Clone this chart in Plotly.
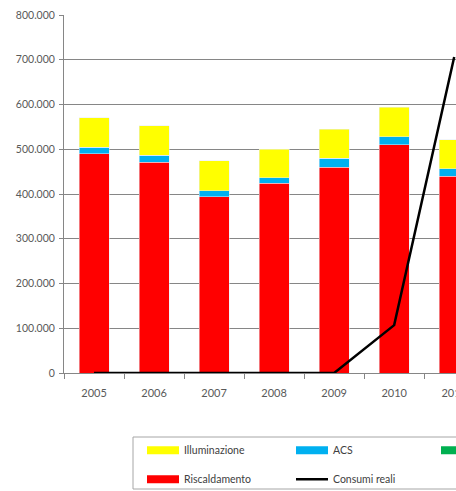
import plotly.graph_objects as go

anni = ["2005", "2006", "2007", "2008", "2009", "2010", "2011"]
riscaldamento = [490000, 471000, 394000, 424000, 460000, 510000, 440000]
acs = [15000, 16000, 13000, 12000, 20000, 18000, 16000]
raffrescamento = [0, 0, 0, 0, 0, 0, 0]
illuminazione = [65000, 65000, 67000, 64000, 65000, 66000, 65000]
consumi_reali = [0, 0, 0, 0, 0, 107000, 706000]
y_ticks = [0, 100000, 200000, 300000, 400000, 500000, 600000, 700000, 800000]

GIALLO = "#FFFF00"
BLU = "#00B0F0"
VERDE = "#00B050"
ROSSO = "#FF0000"

fig = go.Figure()
fig.add_trace(go.Bar(x=anni, y=riscaldamento, marker_color=ROSSO, showlegend=False, name="Riscaldamento"))
fig.add_trace(go.Bar(x=anni, y=acs, marker_color=BLU, showlegend=False, name="ACS"))
fig.add_trace(go.Bar(x=anni, y=raffrescamento, marker_color=VERDE, showlegend=False, name="Raffrescamento"))
fig.add_trace(go.Bar(x=anni, y=illuminazione, marker_color=GIALLO, showlegend=False, name="Illuminazione"))
fig.add_trace(go.Scatter(x=anni, y=consumi_reali, mode="lines", line=dict(color="black", width=2.5),
                         name="Consumi reali", legend="legend2", legendgroup="cr"))

# legend-only entries (wide rectangles like the original)
def leg(name, color, legend, group):
    fig.add_trace(go.Scatter(x=[None], y=[None], mode="lines", line=dict(color=color, width=8),
                             name=name, legend=legend, legendgroup=group, hoverinfo="skip"))

leg("Illuminazione", GIALLO, "legend", "il")
leg("Riscaldamento", ROSSO, "legend", "ri")
leg("ACS", BLU, "legend2", "acs")
leg("Raffrescamento", VERDE, "legend3", "raf")

fig.data[4].legendrank = 2
for t in fig.data[5:]:
    t.legendrank = 1

legend_common = dict(
    orientation="v", yanchor="top", xanchor="left", y=-0.175,
    bgcolor="rgba(0,0,0,0)", borderwidth=0,
    font=dict(family="Lato", size=10.5, color="#404040"),
    traceorder="grouped", tracegroupgap=10, itemwidth=32,
)

fig.update_layout(
    width=456, height=491,
    margin=dict(l=64, r=0, t=15, b=118, autoexpand=False),
    paper_bgcolor="white", plot_bgcolor="white",
    barmode="stack", bargap=0.5,
    separators=",.",
    font=dict(family="Lato", size=10.5, color="#595959"),
    legend=dict(x=(142 - 64) / 392, **legend_common),
    legend2=dict(x=(291 - 64) / 392, **legend_common),
    legend3=dict(x=(436 - 64) / 392, **legend_common),
    xaxis=dict(
        type="category", range=[-0.5, 6.03],
        showline=True, linecolor="#868686", linewidth=1,
        ticks="outside", ticklen=5, tickcolor="#868686", tickson="boundaries",
        ticklabelstandoff=10,
        showgrid=False, tickfont=dict(size=11, color="#595959"),
    ),
    yaxis=dict(
        range=[0, 800000], tickvals=y_ticks, tickformat=",d",
        showline=True, linecolor="#868686", linewidth=1,
        ticks="outside", ticklen=4, tickcolor="#868686",
        ticklabelstandoff=2,
        showgrid=True, gridcolor="#868686", gridwidth=1,
        zeroline=False, tickfont=dict(size=10.5, color="#595959"),
    ),
    shapes=[dict(type="rect", xref="paper", yref="paper",
                 x0=(133 - 64) / 392, x1=1.2, y0=(373 - 489) / 358, y1=(373 - 437) / 358,
                 line=dict(color="#A6A6A6", width=1), fillcolor="rgba(0,0,0,0)")],
)

fig.write_html("out.html", config={"displayModeBar": False},
               post_script="document.body.style.margin='0';document.body.style.overflow='hidden';")
